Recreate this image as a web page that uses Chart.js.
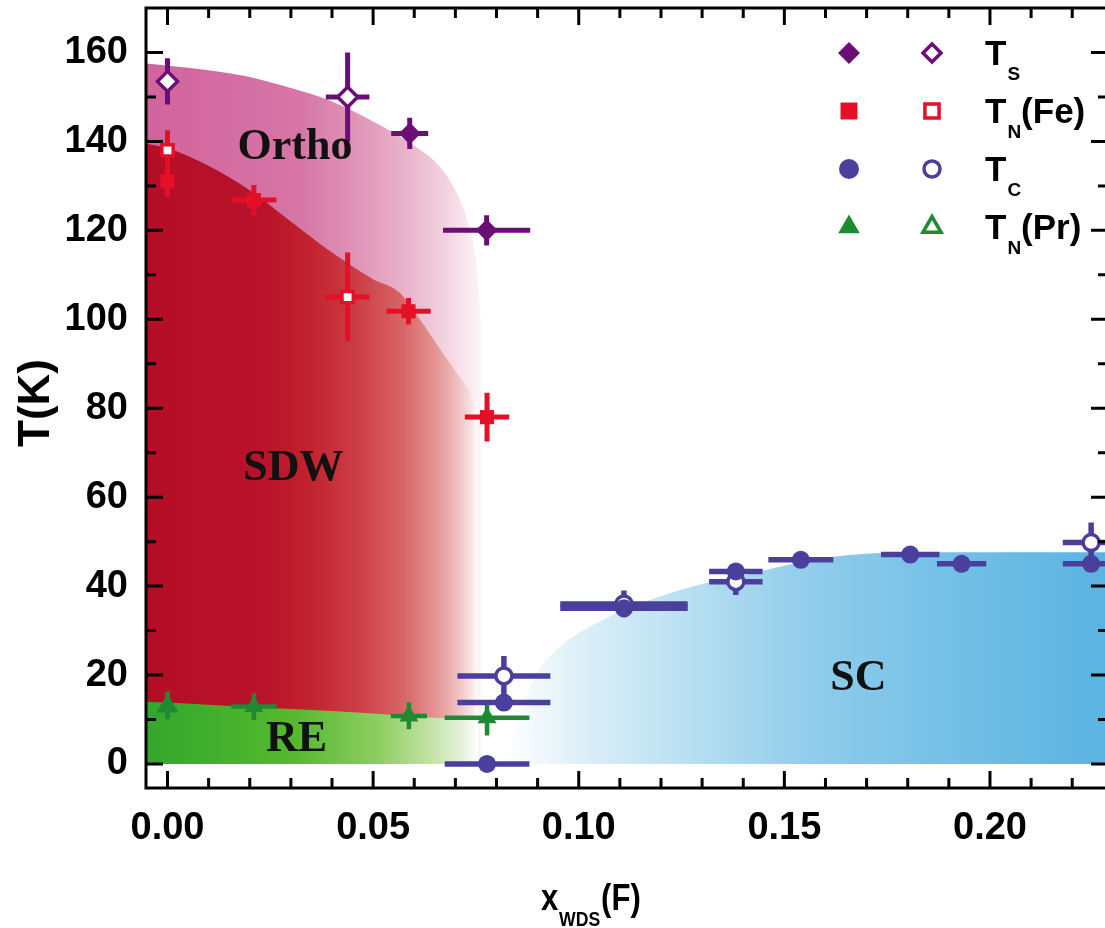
<!DOCTYPE html>
<html lang="en">
<head>
<meta charset="UTF-8" />
<title>T vs x_WDS(F) phase diagram</title>
<script src="https://cdn.jsdelivr.net/npm/chart.js"></script>
<style>
  html, body { margin: 0; padding: 0; background: #fff; overflow: hidden; }
  .wrap { position: relative; width: 1112px; height: 928px; }
</style>
</head>
<body>
<div class="wrap"><canvas id="phaseChart" width="1112" height="928"></canvas></div>
<script>
// axis ticks
const xTicks = [0, 0.05, 0.1, 0.15, 0.2];
const yTicks = [0, 20, 40, 60, 80, 100, 120, 140, 160];

// T_S (diamonds)
const tsFilledX = [0.0589, 0.0776];
const tsFilledY = [141.8, 120];
const tsFilledXErr = [0.0045, 0.0106];
const tsFilledYErr = [3.5, 3.4];
const tsOpenX = [0.0, 0.0438];
const tsOpenY = [153.5, 150];
const tsOpenXErr = [0, 0.0053];
const tsOpenYErr = [5.2, 10];

// T_N(Fe) (squares)
const feFilledX = [0.0, 0.021, 0.0586, 0.0777];
const feFilledY = [131, 126.8, 101.8, 78];
const feFilledXErr = [0, 0.0055, 0.0054, 0.0054];
const feFilledYErr = [3.5, 3.4, 3, 5.5];
const feOpenX = [0.0, 0.0438];
const feOpenY = [138, 105];
const feOpenXErr = [0, 0.0053];
const feOpenYErr = [4.5, 10];

// T_C (circles)
const tcFilledX = [0.0777, 0.0818, 0.111, 0.1382, 0.154, 0.1806, 0.1931, 0.2246];
const tcFilledY = [0, 13.8, 35, 43.3, 45.9, 47.1, 45, 45];
const tcFilledXErr = [0.0103, 0.0113, 0.0155, 0.0065, 0.0079, 0.0071, 0.006, 0.0069];
const tcFilledYErr = [0, 0, 1.5, 1.5, 0, 0, 0, 0];
const tcOpenX = [0.0818, 0.111, 0.1382, 0.2246];
const tcOpenY = [19.8, 36, 41, 49.8];
const tcOpenXErr = [0.0113, 0.0155, 0.0065, 0.0069];
const tcOpenYErr = [4.5, 3, 3, 4.5];

// T_N(Pr) (triangles)
const prFilledX = [0.0, 0.021, 0.0587, 0.0777];
const prFilledY = [13.3, 12.9, 10.8, 10.4];
const prFilledXErr = [0, 0.0055, 0.0044, 0.0103];
const prFilledYErr = [3, 3, 3, 4];
const prOpenX = [0.0];
const prOpenY = [13];
const prOpenXErr = [0];
const prOpenYErr = [3];

// phase boundaries (shaded regions, filled down to T = 0)
const orthoX = [-0.0052, 0, 0.01, 0.02, 0.03, 0.04, 0.05, 0.06, 0.066, 0.07, 0.073, 0.0752, 0.0762];
const orthoY = [157.5, 157, 156, 154.5, 152, 149, 144.5, 139, 134.5, 129, 122, 112, 100];
const sdwX = [-0.0052, 0, 0.01, 0.02, 0.03, 0.04, 0.05, 0.0564, 0.0613, 0.0665, 0.0718, 0.0755];
const sdwY = [139.5, 138.5, 134.5, 129, 122, 115, 109, 106, 100, 93, 86, 81];
const reX = [-0.0052, 0, 0.02, 0.04, 0.06, 0.0755];
const reY = [14, 13.8, 12.8, 11.9, 10.7, 9.8];
const scX = [0.082, 0.0845, 0.0875, 0.091, 0.095, 0.1, 0.105, 0.111, 0.12, 0.13, 0.14, 0.15, 0.16, 0.17, 0.18, 0.2287];
const scY = [0, 8, 16, 22, 26, 29.5, 32, 34.6, 37.8, 40.5, 42.4, 44.6, 46.4, 47.3, 47.6, 47.6];

// legend / labels
const legendMain = ["T", "T", "T", "T"];
const legendSub = ["S", "N", "C", "N"];
const legendRest = ["", "(Fe)", "", "(Pr)"];
const regionNames = ["Ortho", "SDW", "RE", "SC"];
const regionX = [0.031, 0.0306, 0.0314, 0.168];
const regionY = [138.5, 66.5, 5.5, 19.3];

const PURPLE = "#6b0f76";
const RED = "#e50f27";
const BLUE = "#4a3f9d";
const GREEN = "#1e8b33";

const pts = (xs, ys) => xs.map((x, i) => ({ x: x, y: ys[i] }));

function hGradient(chart, x0, x1, stops) {
  const xs = chart.scales && chart.scales.x;
  if (!xs || !chart.chartArea) return stops[0][1];
  const p0 = xs.getPixelForValue(x0), p1 = xs.getPixelForValue(x1);
  if (!isFinite(p0) || !isFinite(p1)) return stops[0][1];
  const g = chart.ctx.createLinearGradient(p0, 0, p1, 0);
  stops.forEach(s => g.addColorStop(s[0], s[1]));
  return g;
}

function region(label, xs, ys, order, x0, x1, stops) {
  return {
    type: "line",
    label: label,
    data: pts(xs, ys),
    fill: "origin",
    borderColor: "rgba(0,0,0,0)",
    borderWidth: 0,
    pointRadius: 0,
    cubicInterpolationMode: "monotone",
    order: order,
    backgroundColor: ctx => hGradient(ctx.chart, x0, x1, stops)
  };
}

function series(label, xs, ys, ex, ey, style, radius, color, open, order, errWidth) {
  return {
    type: "scatter",
    label: label,
    data: pts(xs, ys),
    errX: ex,
    errY: ey,
    errColor: color,
    errWidth: errWidth,
    pointStyle: style,
    pointRadius: radius,
    pointBackgroundColor: open ? "#ffffff" : color,
    pointBorderColor: color,
    pointBorderWidth: open ? 3.5 : 0,
    order: order
  };
}

// error bars under each scatter dataset
const errorBars = {
  id: "errorBars",
  beforeDatasetDraw(chart, args) {
    const ds = chart.data.datasets[args.index];
    if (!ds.errX) return;
    const { ctx, chartArea, scales: { x, y } } = chart;
    ctx.save();
    ctx.beginPath();
    ctx.rect(chartArea.left, chartArea.top, chartArea.right - chartArea.left, chartArea.bottom - chartArea.top);
    ctx.clip();
    ctx.strokeStyle = ds.errColor;
    ctx.lineWidth = ds.errWidth;
    ds.data.forEach((p, i) => {
      const dx = ds.errX[i], dy = ds.errY[i];
      const px = x.getPixelForValue(p.x), py = y.getPixelForValue(p.y);
      ctx.beginPath();
      if (dx) {
        ctx.moveTo(x.getPixelForValue(p.x - dx), py);
        ctx.lineTo(x.getPixelForValue(p.x + dx), py);
      }
      if (dy) {
        ctx.moveTo(px, y.getPixelForValue(p.y - dy));
        ctx.lineTo(px, y.getPixelForValue(p.y + dy));
      }
      ctx.stroke();
    });
    ctx.restore();
  }
};

// frame, inward ticks, titles, region labels and legend
const decorations = {
  id: "decorations",
  afterDraw(chart) {
    const { ctx, chartArea: a, scales: { x, y } } = chart;
    ctx.save();
    ctx.strokeStyle = "#000";
    ctx.lineWidth = 3;
    ctx.strokeRect(a.left, a.top, a.right - a.left, a.bottom - a.top);

    ctx.lineWidth = 3;
    ctx.beginPath();
    for (let i = 0; i <= 22; i++) {
      const px = x.getPixelForValue(i / 100);
      const len = i % 5 === 0 ? 17 : 10;
      ctx.moveTo(px, a.bottom); ctx.lineTo(px, a.bottom - len);
      ctx.moveTo(px, a.top); ctx.lineTo(px, a.top + len);
    }
    for (let i = 0; i <= 16; i++) {
      const py = y.getPixelForValue(i * 10);
      const len = i % 2 === 0 ? 17 : 10;
      ctx.moveTo(a.left, py); ctx.lineTo(a.left + len, py);
      ctx.moveTo(a.right, py); ctx.lineTo(a.right - len, py);
    }
    ctx.stroke();

    // region labels
    ctx.fillStyle = "#111";
    ctx.font = 'bold 44px "Liberation Serif", "Times New Roman", serif';
    ctx.textAlign = "center";
    ctx.textBaseline = "middle";
    regionNames.forEach((t, i) => {
      ctx.fillText(t, x.getPixelForValue(regionX[i]), y.getPixelForValue(regionY[i]));
    });

    // y title
    ctx.fillStyle = "#000";
    ctx.save();
    ctx.translate(37, 403);
    ctx.rotate(-Math.PI / 2);
    ctx.font = 'bold 44px "Liberation Sans", Arial, sans-serif';
    ctx.fillText("T(K)", 0, 0);
    ctx.restore();

    // x title with subscript
    ctx.save();
    ctx.textAlign = "left";
    ctx.textBaseline = "alphabetic";
    const big = 'bold 37px "Liberation Sans", Arial, sans-serif';
    const small = 'bold 21px "Liberation Sans", Arial, sans-serif';
    ctx.font = big; const w1 = ctx.measureText("x").width; const w3 = ctx.measureText("(F)").width;
    ctx.font = small; const w2 = ctx.measureText("WDS").width;
    const sx = 0.84;
    const total = (w1 + w2 + w3) * sx;
    ctx.translate(590 - total / 2, 910);
    ctx.scale(sx, 1);
    ctx.font = big; ctx.fillText("x", 0, 0);
    ctx.font = small; ctx.fillText("WDS", w1 + 1, 16);
    ctx.font = big; ctx.fillText("(F)", w1 + w2 + 2, 0);
    ctx.restore();

    // legend
    const styles = ["rectRot", "rect", "circle", "triangle"];
    const colors = [PURPLE, RED, BLUE, GREEN];
    const radii = [11, 12, 10, 12.5];
    const rowY = [53, 111, 169, 227];
    const H = Chart.helpers;
    for (let i = 0; i < 4; i++) {
      ctx.fillStyle = colors[i];
      ctx.strokeStyle = colors[i];
      H.drawPoint(ctx, { pointStyle: styles[i], radius: radii[i], rotation: 0, borderWidth: 0 }, 849, rowY[i]);
      ctx.fillStyle = "#fff";
      ctx.lineWidth = 3.5;
      H.drawPoint(ctx, { pointStyle: styles[i], radius: radii[i] - 2, rotation: 0, borderWidth: 3.5 }, 932, rowY[i]);
      ctx.fillStyle = "#000";
      ctx.textAlign = "left";
      ctx.textBaseline = "alphabetic";
      ctx.font = 'bold 35px "Liberation Sans", Arial, sans-serif';
      const bx = 985, by = rowY[i] + 12;
      ctx.fillText(legendMain[i], bx, by);
      const wT = ctx.measureText(legendMain[i]).width;
      ctx.font = 'bold 19px "Liberation Sans", Arial, sans-serif';
      ctx.fillText(legendSub[i], bx + wT + 1, by + 15);
      const wS = ctx.measureText(legendSub[i]).width;
      ctx.font = 'bold 35px "Liberation Sans", Arial, sans-serif';
      ctx.fillText(legendRest[i], bx + wT + wS + 1, by);
    }
    ctx.restore();
  }
};

const tickFont = { family: '"Liberation Sans", Arial, sans-serif', size: 38, weight: "bold" };

// fixed axis box sizes, no automatic label padding
function fixBox(s, w, h) {
  if (w) s.width = w;
  if (h) s.height = h;
  s.paddingTop = 0; s.paddingBottom = 0; s.paddingLeft = 0; s.paddingRight = 0;
}

const chart = new Chart(document.getElementById("phaseChart"), {
  type: "scatter",
  data: {
    datasets: [
      series("T_S", tsFilledX, tsFilledY, tsFilledXErr, tsFilledYErr, "rectRot", 11, PURPLE, false, 1, 5),
      series("T_S open", tsOpenX, tsOpenY, tsOpenXErr, tsOpenYErr, "rectRot", 10, PURPLE, true, 1, 5),
      series("T_N(Fe)", feFilledX, feFilledY, feFilledXErr, feFilledYErr, "rect", 10, RED, false, 2, 5),
      series("T_N(Fe) open", feOpenX, feOpenY, feOpenXErr, feOpenYErr, "rect", 8, RED, true, 2, 5),
      series("T_C", tcFilledX, tcFilledY, tcFilledXErr, tcFilledYErr, "circle", 9, BLUE, false, 3, 5.5),
      series("T_C open", tcOpenX, tcOpenY, tcOpenXErr, tcOpenYErr, "circle", 8, BLUE, true, 3, 5.5),
      series("T_N(Pr)", prFilledX, prFilledY, prFilledXErr, prFilledYErr, "triangle", 11, GREEN, false, 4, 4.5),
      series("T_N(Pr) open", prOpenX, prOpenY, prOpenXErr, prOpenYErr, "triangle", 9, GREEN, true, 4, 4.5),
      region("Ortho", orthoX, orthoY, 13, -0.0052, 0.0764,
        [[0, "#d2639c"], [0.45, "#d675a6"], [0.62, "#df92b7"], [0.77, "#e9b2ca"], [0.89, "#f2d2df"], [1, "#fdf6f9"]]),
      region("SDW", sdwX, sdwY, 12, -0.0052, 0.0757,
        [[0, "#b30e26"], [0.35, "#b8132a"], [0.5, "#c2232f"], [0.65, "#cd414a"], [0.77, "#d86565"],
         [0.86, "#e38f8f"], [0.92, "#ecb4b4"], [0.97, "#f6dcdc"], [1, "#ffffff"]]),
      region("RE", reX, reY, 11, -0.0052, 0.0757,
        [[0, "#33a72c"], [0.45, "#55b92f"], [0.7, "#8fcd62"], [0.85, "#c2e2a3"], [0.96, "#eaf3e2"], [1, "#ffffff"]]),
      region("SC", scX, scY, 10, 0.082, 0.2287,
        [[0, "#ffffff"], [0.12, "#dff0f9"], [0.3, "#b9e0f2"], [0.5, "#92cdeb"], [0.7, "#78c2e7"], [1, "#5ab3e0"]])
    ]
  },
  options: {
    responsive: false,
    animation: false,
    events: [],
    layout: { autoPadding: false, padding: { top: 8, right: 4, left: 0, bottom: 0 } },
    plugins: { legend: { display: false }, tooltip: { enabled: false } },
    scales: {
      x: {
        type: "linear",
        min: -0.00523,
        max: 0.2287,
        afterFit: s => fixBox(s, 0, 140),
        afterBuildTicks: s => { s.ticks = xTicks.map(v => ({ value: v })); },
        grid: { display: false, drawTicks: false },
        border: { display: false },
        ticks: { color: "#000", font: tickFont, padding: 18, maxRotation: 0, autoSkip: false,
                 callback: v => Number(v).toFixed(2) }
      },
      y: {
        type: "linear",
        min: -5.4,
        max: 170,
        afterFit: s => fixBox(s, 146, 0),
        afterBuildTicks: s => { s.ticks = yTicks.map(v => ({ value: v })); },
        grid: { display: false, drawTicks: false },
        border: { display: false },
        ticks: { color: "#000", font: tickFont, padding: 18, autoSkip: false,
                 callback: v => String(v) }
      }
    }
  },
  plugins: [errorBars, decorations]
});
</script>
</body>
</html>
